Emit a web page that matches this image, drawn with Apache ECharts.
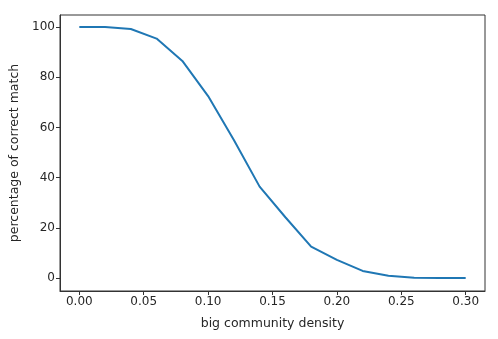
<!DOCTYPE html>
<html>
<head>
<meta charset="utf-8">
<script src="https://cdn.jsdelivr.net/npm/echarts@6/dist/echarts.min.js"></script>
<style>
  html, body { margin: 0; padding: 0; background: #fff; }
  #chart { width: 498px; height: 339px; }
</style>
</head>
<body>
<div id="chart"></div>
<script>
// density values on x, match percentage on y
var densities = [0.00, 0.02, 0.04, 0.06, 0.08, 0.10, 0.12, 0.14, 0.16, 0.18, 0.20, 0.22, 0.24, 0.26, 0.28, 0.30];
var matchPct = [100, 100, 99.2, 95.4, 86.5, 72.5, 55, 36.4, 24.2, 12.5, 7.2, 2.8, 0.9, 0.1, 0, 0];
var xTicks = [0, 0.05, 0.10, 0.15, 0.20, 0.25, 0.30];
var yTicks = [0, 20, 40, 60, 80, 100];

var chart = echarts.init(document.getElementById('chart'));
var txt = '#262626';

var points = densities.map(function (d, i) { return [d, matchPct[i]]; });

chart.setOption({
    animation: false,
    grid: {
        left: 60, right: 13, top: 15, bottom: 48,
        show: true, borderColor: '#333', borderWidth: 1
    },
    xAxis: {
        type: 'value',
        min: -0.015,
        max: 0.315,
        name: 'big community density',
        nameLocation: 'middle',
        nameGap: 26,
        nameTextStyle: { color: txt, fontSize: 12.5, fontFamily: 'DejaVu Sans' },
        axisLine: { show: true, onZero: false, lineStyle: { color: '#333' } },
        axisTick: { show: true, inside: false, length: 4, customValues: xTicks, lineStyle: { color: '#333' } },
        axisLabel: {
            customValues: xTicks, color: txt, fontSize: 12, fontFamily: 'DejaVu Sans', margin: 5,
            formatter: function (v) { return v.toFixed(2); }
        },
        splitLine: { show: false }
    },
    yAxis: {
        type: 'value',
        min: -5.2,
        max: 104.8,
        name: 'percentage of correct match',
        nameLocation: 'middle',
        nameGap: 38,
        nameTextStyle: { color: txt, fontSize: 12.5, fontFamily: 'DejaVu Sans' },
        axisLine: { show: true, onZero: false, lineStyle: { color: '#333' } },
        axisTick: { show: true, inside: false, length: 4, customValues: yTicks, lineStyle: { color: '#333' } },
        axisLabel: { customValues: yTicks, color: txt, fontSize: 12, fontFamily: 'DejaVu Sans', margin: 5 },
        splitLine: { show: false }
    },
    series: [{
        type: 'line',
        data: points,
        showSymbol: false,
        symbol: 'none',
        lineStyle: { color: '#1f77b4', width: 2 }
    }]
});
</script>
</body>
</html>
